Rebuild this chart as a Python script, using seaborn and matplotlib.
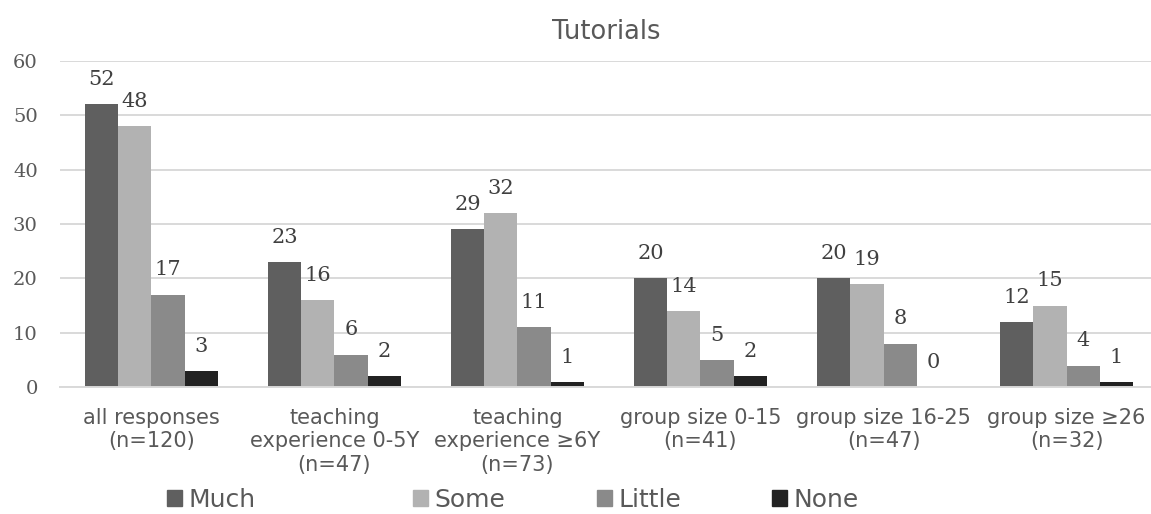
import matplotlib
matplotlib.use("Agg")
import matplotlib.pyplot as plt
import seaborn as sns
import pandas as pd

# Survey results: how much tutorials are used, split by respondent group
categories = [
    "all responses\n(n=120)",
    "teaching\nexperience 0-5Y\n(n=47)",
    "teaching\nexperience ≥6Y\n(n=73)",
    "group size 0-15\n(n=41)",
    "group size 16-25\n(n=47)",
    "group size ≥26\n(n=32)",
]
levels = ["Much", "Some", "Little", "None"]
much = [52, 23, 29, 20, 20, 12]
some = [48, 16, 32, 14, 19, 15]
little = [17, 6, 11, 5, 8, 4]
none = [3, 2, 1, 2, 0, 1]
yticks = [0, 10, 20, 30, 40, 50, 60]

colors = ["#5f5f5f", "#b2b2b2", "#8a8a8a", "#222222"]

rows = []
for level, vals in zip(levels, [much, some, little, none]):
    for cat, v in zip(categories, vals):
        rows.append({"group": cat, "level": level, "count": v})
df = pd.DataFrame(rows)

sns.set_theme(style="white")
plt.rcParams["font.family"] = ["DejaVu Sans"]

fig = plt.figure(figsize=(11.51, 5.14), dpi=100)
ax = fig.add_axes([0.0521, 0.2465, 0.954, 0.6354])

sns.barplot(
    data=df, x="group", y="count", hue="level",
    order=categories, hue_order=levels,
    palette=colors, saturation=1, width=0.727,
    linewidth=0, ax=ax, legend=False,
)

for cont in ax.containers:
    ax.bar_label(cont, padding=11, fontsize=15, color="#404040",
                 family="DejaVu Serif")

ax.set_ylim(0, 60)
ax.set_xlim(-0.5, len(categories) - 0.5)
ax.set_yticks(yticks)
ax.set_yticklabels([str(t) for t in yticks], family="DejaVu Serif",
                   fontsize=14, color="#595959")
ax.yaxis.grid(True, color="#d9d9d9", linewidth=1.4)
ax.set_axisbelow(True)
ax.tick_params(axis="y", length=0, pad=16)
ax.tick_params(axis="x", length=0, pad=15)
for lbl in ax.get_xticklabels():
    lbl.set_fontsize(15)
    lbl.set_color("#595959")
    lbl.set_linespacing(1.2)
ax.set_xlabel("")
ax.set_ylabel("")
for side in ["left", "right", "top"]:
    ax.spines[side].set_visible(False)
ax.spines["bottom"].set_color("#d9d9d9")
ax.spines["bottom"].set_linewidth(1.4)

fig.text(0.527, 0.937, "Tutorials", ha="center", va="center",
         fontsize=18.5, color="#595959")

# Legend entries placed one by one along the bottom edge
legend_x = [167, 413, 597, 772]
for level, c, x in zip(levels, colors, legend_x):
    leg = fig.legend([plt.Rectangle((0, 0), 1, 1, color=c)], [level],
                     loc="center left", bbox_to_anchor=(x / 1151, 0.027),
                     frameon=False, fontsize=18, handlelength=0.6,
                     handleheight=0.6, handletextpad=0.25, borderpad=0,
                     borderaxespad=0)
    for t in leg.get_texts():
        t.set_color("#595959")

fig.savefig("out.png", dpi=100)
